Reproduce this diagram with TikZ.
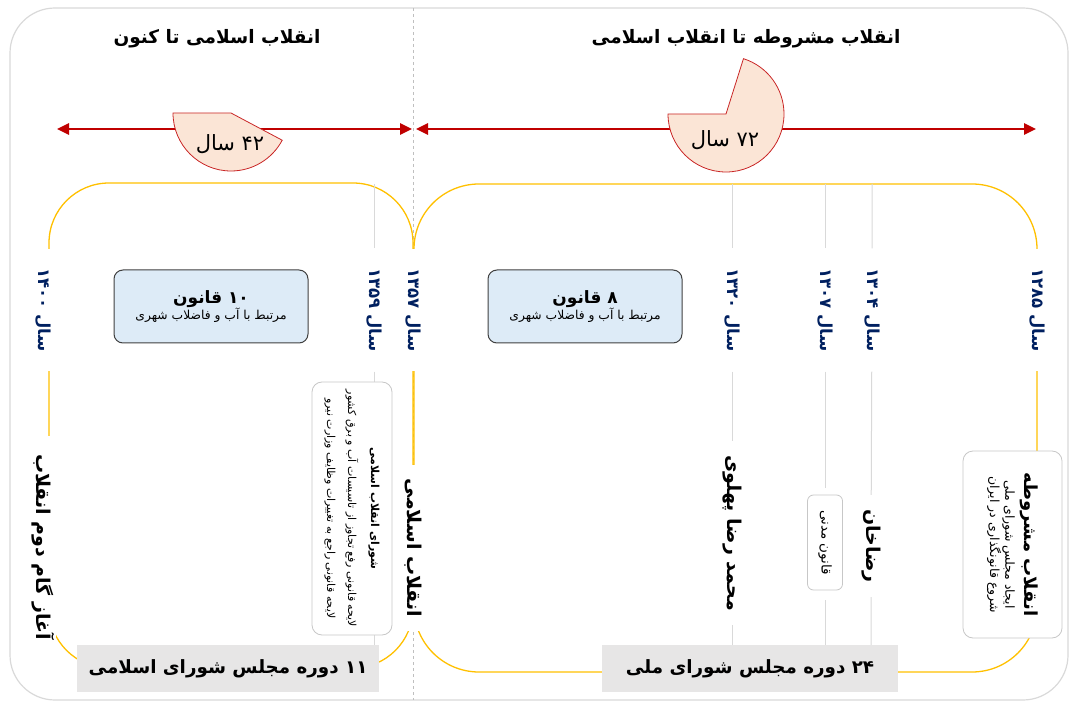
\documentclass[tikz,border=0pt]{standalone}
\usepackage{fontspec}
\setmainfont{DejaVu Sans}
\newfontfamily\arabicfont[Script=Arabic]{DejaVu Sans}
\TeXXeTstate=1
\usetikzlibrary{calc,positioning,arrows.meta,backgrounds}
\definecolor{redline}{RGB}{192,0,0}
\definecolor{piefill}{RGB}{251,229,214}
\definecolor{gold}{RGB}{255,192,0}
\definecolor{navy}{RGB}{0,32,96}
\definecolor{lawblue}{RGB}{221,235,247}
\definecolor{bargray}{RGB}{231,230,230}
\newcommand{\fatxt}[1]{\arabicfont\beginR #1\endR}
\newcommand{\fnum}[1]{\beginL#1\endL{}}

\begin{document}
\begin{tikzpicture}[x=1pt,y=1pt,
  year/.style={rotate=-90,text=navy,font=\fontsize{16.5}{19}\selectfont\bfseries,fill=white,inner xsep=20pt,inner ysep=2pt},
  event/.style={rotate=-90,font=\fontsize{19}{22}\selectfont\bfseries,fill=white,inner xsep=14pt,inner ysep=2pt},
  note/.style={rotate=-90,draw=black!22,fill=white,rounded corners=10pt,align=center,line width=0.8pt},
  law/.style={draw=black!75,fill=lawblue,rounded corners=9pt,minimum width=194pt,minimum height=73pt,align=center,line width=1pt},
  majles/.style={fill=bargray,minimum height=47pt,font=\fontsize{18.3}{22}\selectfont\bfseries},
  bracket/.style={draw=gold,line width=1.3pt,rounded corners=60pt},
  guide/.style={draw=black!15,line width=1pt},
  span/.style={redline,line width=2.6pt,{Triangle[length=12pt,width=11pt]}-{Triangle[length=12pt,width=11pt]}},
  pie/.style={draw=redline!85,fill=piefill,line width=0.8pt}]
\useasboundingbox (0,0) rectangle (1070,702);

% headings
\node[font=\fontsize{18.5}{22}\selectfont\bfseries] (head now) at (217,663) {\fatxt{انقلاب اسلامی تا کنون}};
\node[font=\fontsize{18.5}{22}\selectfont\bfseries] (head mash) at (746,663) {\fatxt{انقلاب مشروطه تا انقلاب اسلامی}};

% year labels
\node[year] (y1400) at (43,392) {\fatxt{سال \fnum{۱۴۰۰}}};
\node[year] (y1359) at (374,392) {\fatxt{سال \fnum{۱۳۵۹}}};
\node[year] (y1357) at (413,392) {\fatxt{سال \fnum{۱۳۵۷}}};
\node[year] (y1320) at (732,392) {\fatxt{سال \fnum{۱۳۲۰}}};
\node[year] (y1307) at (825,392) {\fatxt{سال \fnum{۱۳۰۷}}};
\node[year] (y1304) at (872,392) {\fatxt{سال \fnum{۱۳۰۴}}};
\node[year] (y1285) at (1037,392) {\fatxt{سال \fnum{۱۲۸۵}}};

% laws
\node[law] (laws now) at (211,395.5) {{\fontsize{17}{20}\selectfont\bfseries\fatxt{\fnum{۱۰} قانون}}\\[-1pt]
  {\fontsize{12.3}{14}\selectfont\fatxt{مرتبط با آب و فاضلاب شهری}}};
\node[law] (laws mash) at (585,395.5) {{\fontsize{17}{20}\selectfont\bfseries\fatxt{\fnum{۸} قانون}}\\[-1pt]
  {\fontsize{12.3}{14}\selectfont\fatxt{مرتبط با آب و فاضلاب شهری}}};

% events
\node[event,inner xsep=18pt] (step two) at (43,155) {\fatxt{آغاز گام دوم انقلاب}};
\node[note,minimum width=253pt,minimum height=80pt] (shura) at (352,193.5)
  {{\fontsize{11}{14}\selectfont\bfseries\fatxt{شورای انقلاب اسلامی}}\\[9pt]
   {\fontsize{11}{14}\selectfont\fatxt{لایحه قانونی رفع تجاوز از تاسیسات آب و برق کشور}}\\[9pt]
   {\fontsize{11}{14}\selectfont\fatxt{لایحه قانونی راجع به تغییرات وظایف وزارت نیرو}}};
\node[event] (revolution) at (413,154) {\fatxt{انقلاب اسلامی}};
\node[event] (pahlavi) at (732,169) {\fatxt{محمد رضا پهلوی}};
\node[note,minimum width=95pt,minimum height=35pt,rounded corners=6pt,font=\fontsize{13.5}{16}\selectfont] (madani) at (825,159.5) {\fatxt{قانون مدنی}};
\node[event] (rezakhan) at (871,156) {\fatxt{رضاخان}};
\node[note,minimum width=187pt,minimum height=99pt] (mashruteh) at (1012.5,157.5)
  {{\fontsize{18}{21}\selectfont\bfseries\fatxt{انقلاب مشروطه}}\\[4pt]
   {\fontsize{12.5}{15}\selectfont\fatxt{ایجاد مجلس شورای ملی}}\\
   {\fontsize{12.5}{15}\selectfont\fatxt{شروع قانونگذاری در ایران}}};

% parliaments
\node[majles,minimum width=302pt] (majles now) at (228,33.5) {\fatxt{\fnum{۱۱} دوره مجلس شورای اسلامی}};
\node[majles,minimum width=296pt] (majles mash) at (750,33.5) {\fatxt{\fnum{۲۴} دوره مجلس شورای ملی}};

% time spans
\coordinate (now) at (57,573);
\coordinate (rev end) at (412,573);
\coordinate (rev start) at (416,573);
\coordinate (mash start) at (1036,573);
\draw[span] (now) -- (rev end);
\draw[span] (rev start) -- (mash start);

\coordinate (pie now) at (231,589);
\coordinate (pie mash) at (726,588);
\draw[pie] (pie now) -- +(180:58pt) arc[start angle=180,end angle=332,radius=58pt] -- cycle;
\draw[pie] (pie mash) -- +(180:58pt) arc[start angle=180,end angle=432.5,radius=58pt] -- cycle;
\node[font=\fontsize{21}{24}\selectfont] (years now) at (230,558) {\fatxt{\fnum{۴۲} سال}};
\node[font=\fontsize{21}{24}\selectfont] (years mash) at (725,562) {\fatxt{\fnum{۷۲} سال}};

\begin{scope}[on background layer]
\draw[black!15,line width=1.2pt,rounded corners=45pt] (10,2) rectangle (1068,694);
\draw[black!25,dashed,line width=0.8pt] (413.5,694) -- (413.5,2);
\draw[bracket] (49,519) rectangle (413,34);
\draw[bracket,rounded corners=65pt] (414,518) rectangle (1037,30);
\coordinate (top) at (0,518);
\draw[guide] (y1359 |- top) -- (y1359) -- (y1359 |- majles now.north);
\draw[guide] (y1320 |- top) -- (y1320) -- (pahlavi) -- (pahlavi |- majles mash.north);
\draw[guide] (y1307 |- top) -- (y1307);
\draw[guide,shorten >=7pt] (y1307) -- (madani);
\draw[guide,shorten <=10pt] (madani) -- (madani |- majles mash.north);
\draw[guide] (y1304 |- top) -- (y1304) -- (rezakhan) -- (rezakhan |- majles mash.north);
\end{scope}
\end{tikzpicture}
\end{document}
